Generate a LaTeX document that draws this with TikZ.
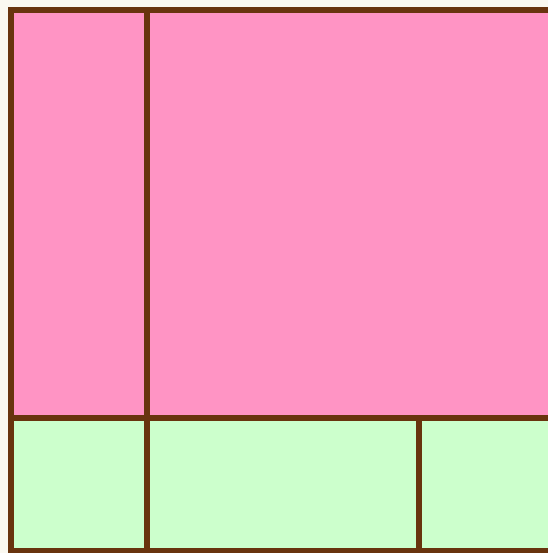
\documentclass[tikz,border=0pt]{standalone}
\definecolor{bgc}{RGB}{250,248,240}
\definecolor{pinkc}{RGB}{255,148,196}
\definecolor{greenc}{RGB}{204,255,204}
\definecolor{brownc}{RGB}{104,52,14}
\tikzset{
  cellline/.style={draw=brownc, line width=5.5pt},
}
\begin{document}
\begin{tikzpicture}[x=1pt,y=-1pt]
\useasboundingbox (0,0) rectangle (548,553);
\fill[bgc] (0,0) rectangle (548,553);
\fill[pinkc] (11,10) rectangle (548,418);
\fill[greenc] (11,418) rectangle (548,551);
\begin{scope}
\clip (0,0) rectangle (548,553);
\draw[cellline] (548,10) -- (11,10) -- (11,551) -- (548,551);
\draw[cellline] (11,418) -- (548,418);
\draw[cellline] (147,10) -- (147,551);
\draw[cellline] (419,418) -- (419,551);
\end{scope}
\end{tikzpicture}
\end{document}
